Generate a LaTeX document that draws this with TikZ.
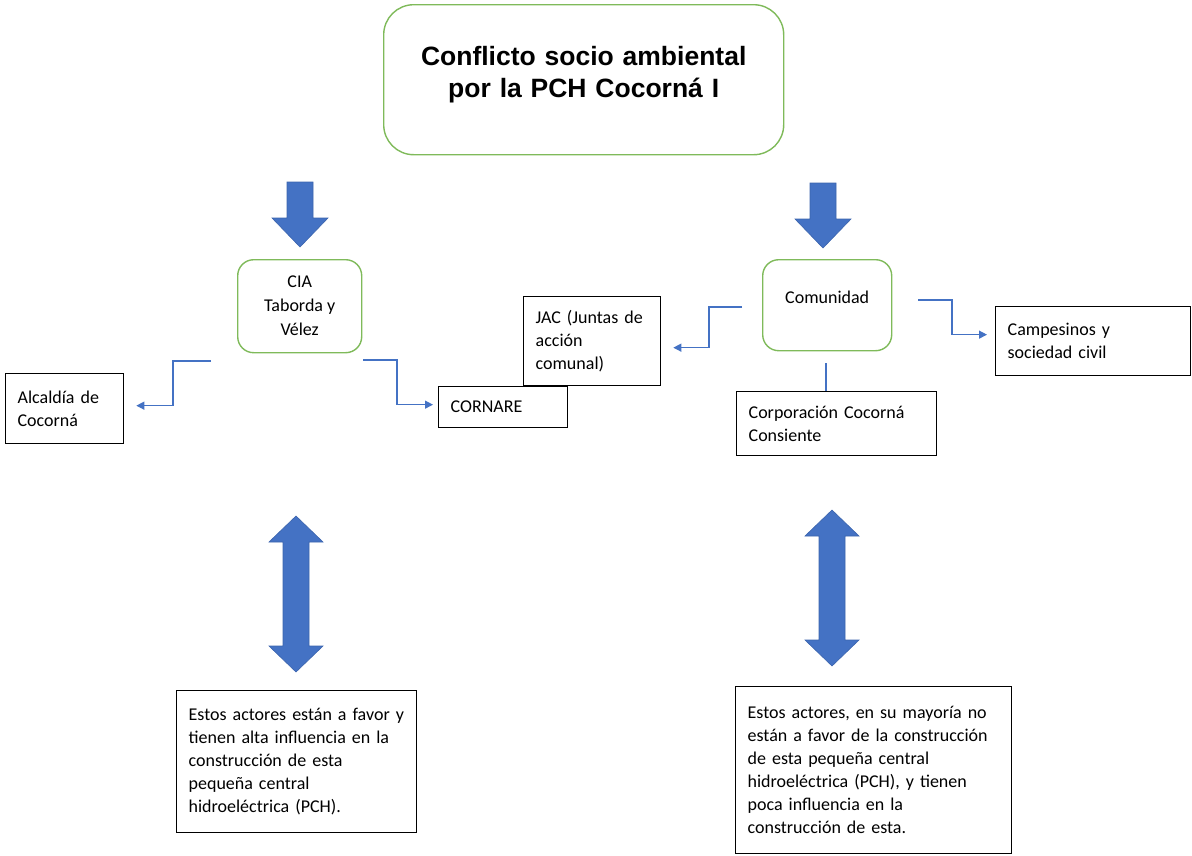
\documentclass[tikz,border=0pt]{standalone}
\usepackage{fontspec}
\setmainfont{Carlito}
\newfontfamily\titlefont{Liberation Sans}
\usetikzlibrary{arrows.meta}
\definecolor{grn}{HTML}{7FBA5A}
\definecolor{blu}{HTML}{4472C4}
\definecolor{bluedge}{HTML}{3B64AD}
\begin{document}
\begin{tikzpicture}[x=1pt,y=-1pt,
  body/.style={font=\fontsize{18}{23}\selectfont},
  gbox/.style={draw=grn, line width=1.4pt, rounded corners=16pt, align=center, inner sep=0pt, anchor=north west, body},
  tbox/.style={draw=black, fill=white, line width=1.3pt, anchor=north west, align=left, inner xsep=12pt, inner ysep=0pt, body},
  conn/.style={draw=blu, line width=1.2pt, -{Triangle[length=8pt,width=8pt]}},
  plainline/.style={draw=blu, line width=1.2pt},
  bigarrow/.style={fill=blu, draw=bluedge, line width=0.6pt},
  downarr/.pic={\path[bigarrow] (-13,0) -- (13,0) -- (13,36) -- (28,36) -- (0,65) -- (-28,36) -- (-13,36) -- cycle;},
  dblarr/.pic={\path[bigarrow] (0,0) -- (27,26) -- (13,26) -- (13,130) -- (27,130) -- (0,156) -- (-27,130) -- (-13,130) -- (-13,26) -- (-27,26) -- cycle;}
]
\useasboundingbox (0,0) rectangle (1192,855);

% title
\node[gbox, rounded corners=30pt, text width=400pt, text height=61pt, text depth=89pt,
      font=\titlefont\bfseries\fontsize{26.5}{31.5}\selectfont] (title) at (383,4)
  {Conflicto socio ambiental\\por la PCH Cocorná I};

% big down arrows
\pic at (300,182) {downarr};
\pic at (823,183) {downarr};

% actor boxes
\node[gbox, minimum width=124pt, minimum height=93pt, font=\fontsize{18}{24}\selectfont] (cia) at (237,259) {CIA\\Taborda y\\Vélez};
\node[gbox, minimum width=129pt, text height=44pt, text depth=47pt] (com) at (762,259) {Comunidad};

\node[tbox, text width=94pt, minimum height=70pt] (alc) at (5,373) {Alcaldía de\\Cocorná};
\node[tbox, text width=113pt, minimum height=89pt] (jac) at (523,296) {\mbox{JAC (Juntas de}\\acción\\comunal)};
\node[tbox, text width=105pt, minimum height=41pt] (corn) at (438,386) {CORNARE};
\node[tbox, text width=171pt, minimum height=69pt] (camp) at (995,306) {Campesinos y\\sociedad civil};
\node[tbox, text width=176pt, minimum height=64pt] (corp) at (736,391) {\mbox{Corporación Cocorná}\\Consiente};

% connectors
\coordinate (ciaL) at (211,361);
\coordinate (ciaR) at (363,360);
\coordinate (comL) at (742,307);
\coordinate (comR) at (918,300);
\coordinate (comD) at (826,363);
\draw[conn] (ciaL) -- (173,361) |- ([xshift=12pt,yshift=3pt]alc.east);
\draw[conn] (ciaR) -- (397,360) |- ([xshift=-5pt,yshift=2.5pt]corn.west);
\draw[conn] (comL) -- (709,307) |- ([xshift=12pt,yshift=-6.5pt]jac.east);
\draw[conn] (comR) -- (952,300) |- ([xshift=-8pt,yshift=6.5pt]camp.west);
\draw[plainline] (comD) -- (comD |- corp.north);

% double arrows
\pic at (296,516) {dblarr};
\pic at (832,510) {dblarr};

% bottom notes
\node[tbox, text width=216pt, minimum height=142pt] (noteL) at (176,690)
  {\mbox{Estos actores están a favor y}\\\mbox{tienen alta influencia en la}\\construcción de esta\\pequeña central\\hidroeléctrica (PCH).};
\node[tbox, text width=252pt, minimum height=167pt] (noteR) at (735,686)
  {\mbox{Estos actores, en su mayoría no}\\\mbox{están a favor de la construcción}\\de esta pequeña central\\\mbox{hidroeléctrica (PCH), y tienen}\\poca influencia en la\\construcción de esta.};
\end{tikzpicture}
\end{document}
